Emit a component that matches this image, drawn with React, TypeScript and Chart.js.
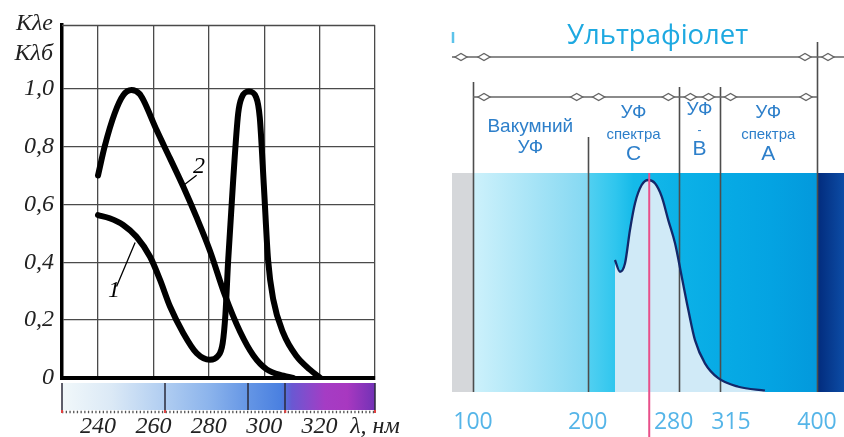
import React, { useEffect, useRef } from "react";
import { Chart, registerables } from "chart.js";
Chart.register(...registerables);

// ---------- Left chart data ----------
const leftXTicks = [240, 260, 280, 300, 320, 340];
const leftXTickLabels = ["240", "260", "280", "300", "320", "λ, нм"];
const leftYTicks = [0, 0.2, 0.4, 0.6, 0.8, 1.0];
const leftYTickLabels = ["0", "0,2", "0,4", "0,6", "0,8", "1,0"];
const leftYTitle = ["Kλe", "Kλб"];
const curveNames = ["1", "2"];

const curve1Wavelength = [240, 244.2, 249.1, 253.9, 258.8, 262.4, 266, 270.8, 275.6, 280.4, 283.2, 285.0, 286.0, 287.0, 288.8, 290.6, 291.9, 294.5, 297.1, 298.4, 299.9, 301.4, 303.3, 306.9, 311.7, 316.5, 320.3];
const curve1Value = [0.563, 0.552, 0.529, 0.488, 0.419, 0.339, 0.247, 0.155, 0.086, 0.063, 0.075, 0.12, 0.22, 0.408, 0.684, 0.914, 0.97, 0.99, 0.97, 0.9, 0.66, 0.408, 0.27, 0.155, 0.075, 0.029, 0];

const curve2Wavelength = [240, 242.4, 246, 249.1, 252.1, 255, 256.4, 261.2, 266, 270.8, 275.6, 280.4, 285.8, 291.3, 296.1, 300.9, 306.9, 310.5];
const curve2Value = [0.7, 0.8, 0.914, 0.977, 0.995, 0.982, 0.96, 0.856, 0.759, 0.661, 0.555, 0.44, 0.287, 0.16, 0.078, 0.03, 0.008, 0];

const colorBarDividers = [227, 264.2, 294.2, 307.6, 340];

// ---------- Right chart data ----------
const uvTitle = "Ультрафіолет";
const uvTickValues = [100, 200, 280, 315, 400];
const uvTickLabels = ["100", "200", "280", "315", "400"];
const uvBandLabels = [
  ["Вакумний", "УФ"],
  ["УФ", "спектра", "С"],
  ["УФ", "-", "В"],
  ["УФ", "спектра", "А"],
];
const uvCurveWavelength = [223.8, 228.2, 232.6, 236.9, 241.3, 247.1, 252.9, 258.7, 264.6, 270.3, 276.2, 282, 287.8, 293.6, 302.3, 313.9, 331.4, 354.6];
const uvCurveValue = [0.603, 0.549, 0.588, 0.74, 0.862, 0.945, 0.968, 0.953, 0.892, 0.785, 0.679, 0.527, 0.374, 0.237, 0.131, 0.063, 0.024, 0.006];
const mercuryLine = 253.7;

const SERIF = '"Liberation Serif", "DejaVu Serif", serif';
const SANS = '"Open Sans", "Noto Sans", sans-serif';
const ARIAL = '"Liberation Sans", Arial, sans-serif';

function toPoints(xs: number[], ys: number[]) {
  return xs.map((x, i) => ({ x, y: ys[i] }));
}

const leftPlugin = {
  id: "leftDecor",
  afterDraw(chart: any) {
    const { ctx, chartArea: ca, scales } = chart;
    const x = scales.x;
    const y = scales.y;
    ctx.save();
    // top border
    ctx.strokeStyle = "#4a4a4a";
    ctx.lineWidth = 1.3;
    ctx.beginPath();
    ctx.moveTo(ca.left, ca.top + 0.5);
    ctx.lineTo(ca.right, ca.top + 0.5);
    ctx.stroke();

    // y axis title
    ctx.fillStyle = "#222";
    ctx.font = `italic 24px ${SERIF}`;
    ctx.textAlign = "right";
    ctx.textBaseline = "middle";
    ctx.fillText(leftYTitle[0], 53, ca.top - 1);
    ctx.fillText(leftYTitle[1], 53, ca.top + 29);

    // curve labels with leader lines
    ctx.strokeStyle = "#000";
    ctx.lineWidth = 1.3;
    ctx.beginPath();
    ctx.moveTo(x.getPixelForValue(246.7), y.getPixelForValue(0.316));
    ctx.lineTo(x.getPixelForValue(253.4), y.getPixelForValue(0.468));
    ctx.moveTo(x.getPixelForValue(270.2), y.getPixelForValue(0.661));
    ctx.lineTo(x.getPixelForValue(275.6), y.getPixelForValue(0.701));
    ctx.stroke();
    ctx.textAlign = "center";
    ctx.fillStyle = "#000";
    ctx.fillText(curveNames[0], x.getPixelForValue(245.8), y.getPixelForValue(0.302));
    ctx.fillText(curveNames[1], x.getPixelForValue(276.5), y.getPixelForValue(0.732));

    // colour bar
    const top = ca.bottom + 5;
    const bh = 27;
    const g = ctx.createLinearGradient(ca.left, 0, ca.right, 0);
    const stops: [number, string][] = [
      [227, "#f1f8fa"], [245, "#dbe9f6"], [264, "#b0cdf1"], [280, "#8cb4ec"],
      [294, "#6596e5"], [306, "#4a80e0"], [310, "#6a58d2"], [322, "#a53cc4"],
      [330, "#a838c0"], [340, "#7232b6"],
    ];
    stops.forEach(([v, c]) => g.addColorStop((x.getPixelForValue(v) - ca.left) / (ca.right - ca.left), c));
    ctx.fillStyle = g;
    ctx.fillRect(ca.left, top, ca.right - ca.left, bh);
    ctx.strokeStyle = "#2a2a3a";
    ctx.lineWidth = 1.5;
    colorBarDividers.forEach((v) => {
      const px = Math.round(x.getPixelForValue(v));
      ctx.beginPath();
      ctx.moveTo(px, top);
      ctx.lineTo(px, top + bh);
      ctx.stroke();
    });
    // dotted scale
    ctx.setLineDash([1.3, 2.4]);
    ctx.strokeStyle = "#555";
    ctx.lineWidth = 2.5;
    ctx.beginPath();
    ctx.moveTo(ca.left, top + bh + 2);
    ctx.lineTo(ca.right, top + bh + 2);
    ctx.stroke();
    ctx.setLineDash([]);
    ctx.fillStyle = "#e04040";
    [227, 264.2, 307.6, 340].forEach((v) => {
      ctx.fillRect(x.getPixelForValue(v) - 1, top + bh, 2, 3);
    });
    ctx.restore();
  },
};

function diamond(ctx: CanvasRenderingContext2D, cx: number, cy: number) {
  ctx.beginPath();
  ctx.moveTo(cx - 6, cy);
  ctx.lineTo(cx, cy - 3.5);
  ctx.lineTo(cx + 6, cy);
  ctx.lineTo(cx, cy + 3.5);
  ctx.closePath();
  ctx.fillStyle = "#fff";
  ctx.fill();
  ctx.stroke();
}

const rightPlugin = {
  id: "uvDecor",
  beforeDatasetsDraw(chart: any) {
    const { ctx, chartArea: ca, scales } = chart;
    const x = scales.x;
    const px = (v: number) => x.getPixelForValue(v);
    const h = ca.bottom - ca.top;
    ctx.save();
    ctx.fillStyle = "#d5d7da";
    ctx.fillRect(ca.left, ca.top, px(100) - ca.left, h);
    let g = ctx.createLinearGradient(px(100), 0, px(200), 0);
    g.addColorStop(0, "#cdf1fb");
    g.addColorStop(1, "#84d8f2");
    ctx.fillStyle = g;
    ctx.fillRect(px(100), ca.top, px(200) - px(100), h);
    g = ctx.createLinearGradient(px(200), 0, px(400), 0);
    const st: [number, string][] = [
      [200, "#52d0f1"], [224, "#30c6ee"], [240, "#15bae9"], [280, "#0cb1e7"],
      [315, "#07abe5"], [360, "#04a3e2"], [400, "#0399dc"],
    ];
    st.forEach(([v, c]) => g.addColorStop((v - 200) / 200, c));
    ctx.fillStyle = g;
    ctx.fillRect(px(200), ca.top, px(400) - px(200), h);
    g = ctx.createLinearGradient(px(400), 0, ca.right, 0);
    g.addColorStop(0, "#022b7c");
    g.addColorStop(1, "#0c4ca5");
    ctx.fillStyle = g;
    ctx.fillRect(px(400), ca.top, ca.right - px(400), h);
    ctx.restore();
  },
  afterDatasetDraw(chart: any, args: any) {
    if (args.index !== 0) return;
    const { ctx, chartArea: ca, scales } = chart;
    const x = scales.x;
    const tops = [82, 137, 87, 87, 42];
    ctx.save();
    ctx.strokeStyle = "#4d4d4d";
    ctx.lineWidth = 1.6;
    uvTickValues.forEach((v, i) => {
      const p = Math.round(x.getPixelForValue(v)) + 0.5;
      ctx.beginPath();
      ctx.moveTo(p, tops[i]);
      ctx.lineTo(p, ca.bottom);
      ctx.stroke();
    });
    ctx.restore();
  },
  afterDraw(chart: any) {
    const { ctx, chartArea: ca, scales, width, height } = chart;
    const x = scales.x;
    const px = (v: number) => x.getPixelForValue(v);
    ctx.save();
    // mercury line
    ctx.strokeStyle = "#e8508a";
    ctx.lineWidth = 2;
    ctx.beginPath();
    ctx.moveTo(px(mercuryLine), ca.top);
    ctx.lineTo(px(mercuryLine), height);
    ctx.stroke();

    // title
    ctx.fillStyle = "#1ea9e1";
    ctx.font = `27.5px ${SANS}`;
    ctx.textAlign = "center";
    ctx.textBaseline = "alphabetic";
    ctx.fillText(uvTitle, px(261), 44);
    ctx.strokeStyle = "#5cc3ea";
    ctx.lineWidth = 2.5;
    ctx.beginPath();
    ctx.moveTo(ca.left + 1, 32);
    ctx.lineTo(ca.left + 1, 43);
    ctx.stroke();

    // arrow rows
    ctx.strokeStyle = "#666";
    ctx.lineWidth = 1.5;
    ctx.beginPath();
    ctx.moveTo(ca.left, 57);
    ctx.lineTo(width, 57);
    ctx.moveTo(px(100), 97);
    ctx.lineTo(px(400), 97);
    ctx.stroke();
    ctx.lineWidth = 1.4;
    [100, 400].forEach((v) => {
      diamond(ctx, px(v) - 12, 57);
      diamond(ctx, px(v) + 11, 57);
    });
    uvTickValues.forEach((v, i) => {
      if (i > 0) diamond(ctx, px(v) - 11, 97);
      if (i < uvTickValues.length - 1) diamond(ctx, px(v) + 11, 97);
    });

    // band labels
    ctx.fillStyle = "#2d7fca";
    ctx.textBaseline = "middle";
    const centers = [150, 240, 297.5, 357.5];
    uvBandLabels.forEach((lines, i) => {
      const cx = px(centers[i]);
      if (lines.length === 2) {
        ctx.font = `19px ${ARIAL}`;
        ctx.fillText(lines[0], cx, 127);
        ctx.fillText(lines[1], cx, 148);
      } else {
        const ys = i === 2 ? [110, 131, 149] : [113, 135, 154];
        ctx.font = `19px ${ARIAL}`;
        ctx.fillText(lines[0], cx, ys[0]);
        ctx.font = i === 2 ? `12px ${ARIAL}` : `15px ${ARIAL}`;
        ctx.fillText(lines[1], cx, ys[1]);
        ctx.font = `21px ${ARIAL}`;
        ctx.fillText(lines[2], cx, ys[2]);
      }
    });
    ctx.restore();
  },
};

export default function App() {
  const leftRef = useRef<HTMLCanvasElement>(null);
  const rightRef = useRef<HTMLCanvasElement>(null);

  useEffect(() => {
    const left = new Chart(leftRef.current as HTMLCanvasElement, {
      type: "line",
      data: {
        datasets: [
          {
            data: toPoints(curve1Wavelength, curve1Value),
            borderColor: "#000",
            borderWidth: 6,
            pointRadius: 0,
            cubicInterpolationMode: "monotone",
            borderCapStyle: "round",
            borderJoinStyle: "round",
            fill: false,
          },
          {
            data: toPoints(curve2Wavelength, curve2Value),
            borderColor: "#000",
            borderWidth: 6,
            pointRadius: 0,
            cubicInterpolationMode: "monotone",
            borderCapStyle: "round",
            borderJoinStyle: "round",
            fill: false,
          },
        ],
      } as any,
      options: {
        responsive: false,
        animation: false,
        layout: { padding: { left: 0, right: 45, top: 25, bottom: 0 } },
        plugins: { legend: { display: false }, tooltip: { enabled: false } },
        scales: {
          x: {
            type: "linear",
            min: 227,
            max: 340,
            afterBuildTicks: (s: any) => {
              s.ticks = leftXTicks.map((v) => ({ value: v }));
            },
            afterFit: (s: any) => {
              s.height = 59;
            },
            grid: { color: "#4a4a4a", lineWidth: 1.3, drawTicks: true, tickLength: 34, tickColor: "rgba(0,0,0,0)" },
            border: { display: true, color: "#000", width: 4 },
            ticks: {
              autoSkip: false,
              maxRotation: 0,
              padding: 0,
              color: "#222",
              font: { family: SERIF, style: "italic", size: 24 },
              callback: (_v: any, i: number) => leftXTickLabels[i],
            },
          },
          y: {
            type: "linear",
            min: 0,
            max: 1.22,
            afterBuildTicks: (s: any) => {
              s.ticks = leftYTicks.map((v) => ({ value: v }));
            },
            afterFit: (s: any) => {
              s.width = 62;
            },
            grid: { color: "#4a4a4a", lineWidth: 1.3, drawTicks: false },
            border: { display: true, color: "#000", width: 3.5 },
            ticks: {
              padding: 8,
              color: "#222",
              font: { family: SERIF, style: "italic", size: 24 },
              callback: (_v: any, i: number) => leftYTickLabels[i],
            },
          },
        },
      } as any,
      plugins: [leftPlugin],
    });

    const right = new Chart(rightRef.current as HTMLCanvasElement, {
      type: "line",
      data: {
        datasets: [
          {
            data: toPoints(uvCurveWavelength, uvCurveValue),
            borderWidth: 0,
            borderColor: "rgba(0,0,0,0)",
            backgroundColor: "#d0eaf7",
            fill: "origin",
            pointRadius: 0,
            cubicInterpolationMode: "monotone",
            order: 2,
          },
          {
            data: toPoints(uvCurveWavelength, uvCurveValue),
            borderWidth: 2.3,
            borderColor: "#13286a",
            fill: false,
            pointRadius: 0,
            cubicInterpolationMode: "monotone",
            order: 1,
          },
        ],
      } as any,
      options: {
        responsive: false,
        animation: false,
        layout: { padding: { left: 32, right: 0, top: 173, bottom: 0 } },
        plugins: { legend: { display: false }, tooltip: { enabled: false } },
        scales: {
          x: {
            type: "linear",
            min: 81.7,
            max: 423.55,
            afterBuildTicks: (s: any) => {
              s.ticks = uvTickValues.map((v) => ({ value: v }));
            },
            afterFit: (s: any) => {
              s.height = 45;
            },
            grid: { display: false, drawTicks: true, tickLength: 17 },
            border: { display: false },
            ticks: {
              autoSkip: false,
              maxRotation: 0,
              padding: 0,
              color: "#55b5e8",
              font: { family: SANS, size: 23 },
              callback: (_v: any, i: number) =>
                i === 2 ? uvTickLabels[i] + "\u2002" : i === 3 ? "\u2003" + uvTickLabels[i] : uvTickLabels[i],
            },
          },
          y: { display: false, min: 0, max: 1 },
        },
      } as any,
      plugins: [rightPlugin],
    });

    return () => {
      left.destroy();
      right.destroy();
    };
  }, []);

  return (
    <div
      style={{
        position: "absolute",
        left: 0,
        top: 0,
        width: 844,
        height: 437,
        background: "#fff",
        overflow: "hidden",
      }}
    >
      <canvas ref={leftRef} width={420} height={437} style={{ position: "absolute", left: 0, top: 0 }} />
      <canvas ref={rightRef} width={424} height={437} style={{ position: "absolute", left: 420, top: 0 }} />
    </div>
  );
}
